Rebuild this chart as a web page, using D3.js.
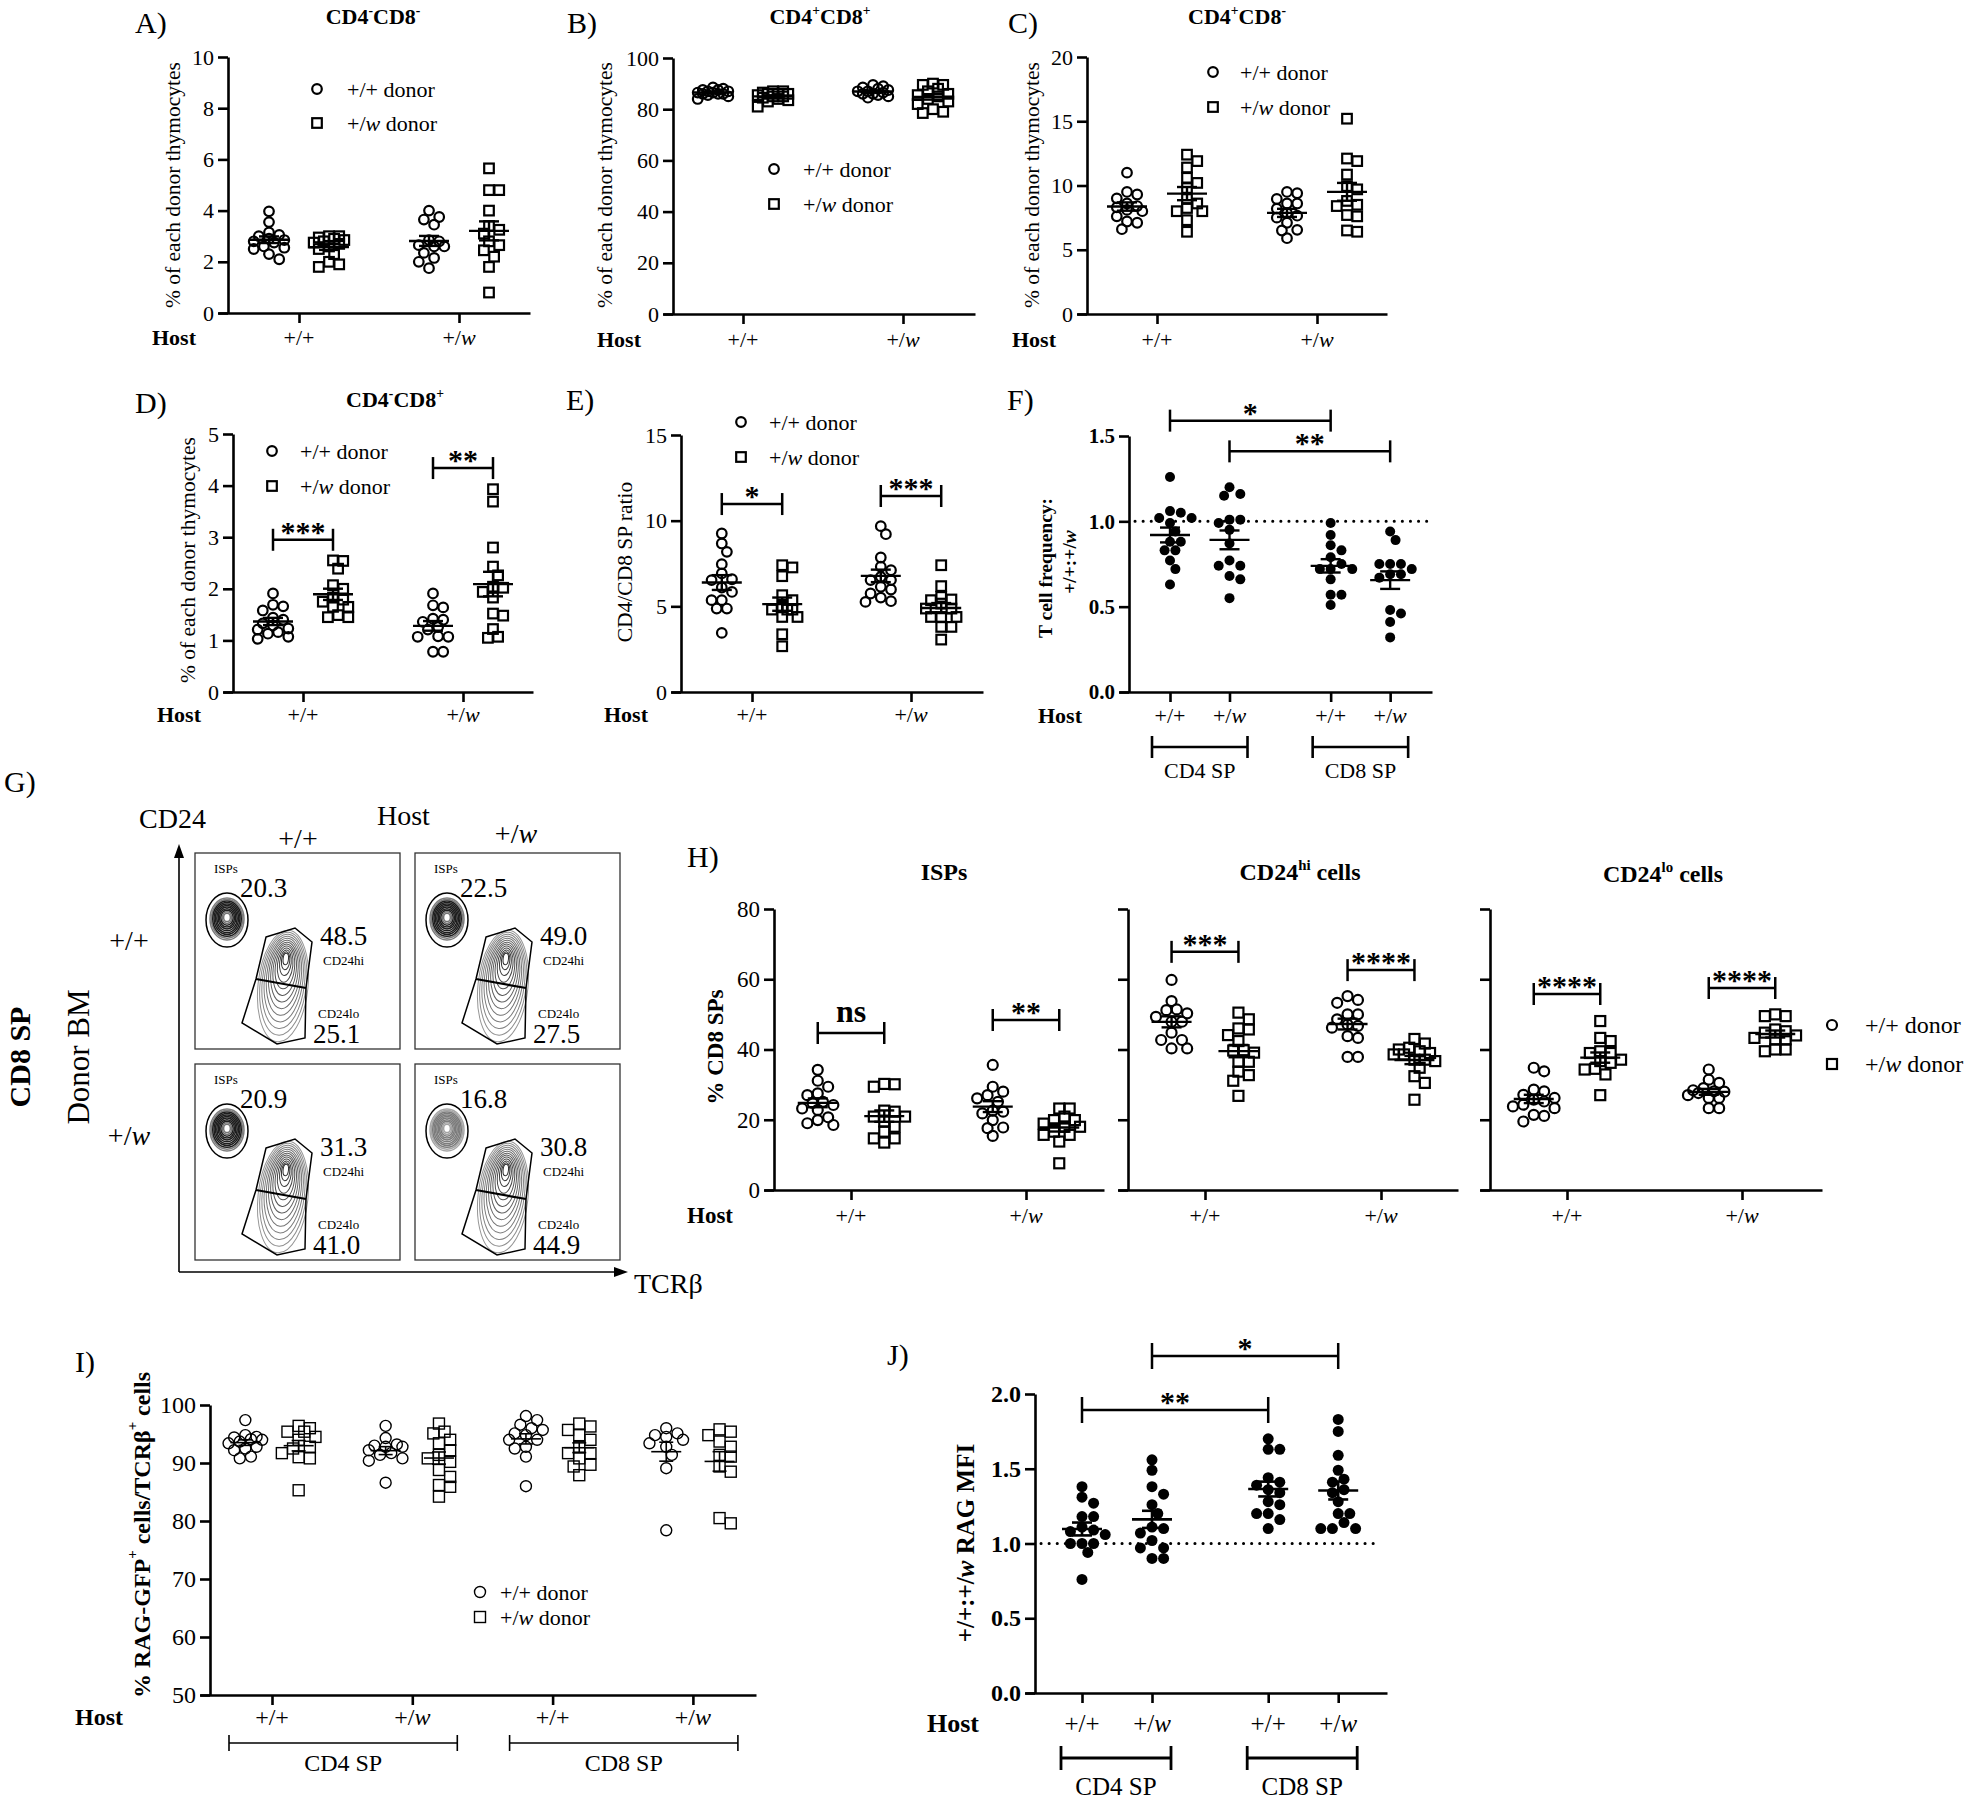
<!DOCTYPE html>
<html><head><meta charset="utf-8">
<script src="https://cdn.jsdelivr.net/npm/d3@7"></script>
<style>body{margin:0;background:#fff}</style>
</head><body>
<script>
// ================= DATA =================
const hostLabels = ["+/+", "+/_w_"];
const legendLabels = ["+/+ donor", "+/_w_ donor"];
const subsetLabels = ["CD4 SP", "CD8 SP"];

// Panel A  CD4-CD8-  (% of each donor thymocytes)
const A_yTicks = [0,2,4,6,8,10];
const A_wtHost_wtDonor  = [3.97,3.55,3.15,3.05,3.0,2.9,2.85,2.8,2.75,2.6,2.55,2.5,2.3,2.1];
const A_wtHost_mutDonor = [3.0,3.0,2.95,2.9,2.85,2.8,2.75,2.7,2.6,2.5,2.3,2.0,1.9,1.8];
const A_mutHost_wtDonor = [4.0,3.75,3.65,3.45,2.85,2.8,2.65,2.6,2.6,2.35,2.15,2.0,1.75];
const A_mutHost_mutDonor= [5.65,4.8,4.8,4.0,3.4,3.25,3.1,2.8,2.65,2.45,2.2,1.8,0.8];

// Panel B  CD4+CD8+
const B_yTicks = [0,20,40,60,80,100];
const B_wtHost_wtDonor  = [88.5,88,87.5,87,87,86.5,86.5,86,86,85.5,85,84,87.5,86];
const B_wtHost_mutDonor = [87,86.5,86,86,85.5,85,85,84.5,84,83.5,83,87,86,81];
const B_mutHost_wtDonor = [89.5,89,88.5,88,87.5,87,87,86.5,86,86,85.5,85,84.5];
const B_mutHost_mutDonor= [90,89.5,89.5,88,87,86,85.5,85,84,83,82,80,79,78.5];

// Panel C  CD4+CD8-
const C_yTicks = [0,5,10,15,20];
const C_wtHost_wtDonor  = [11.0,9.5,9.3,9.0,8.6,8.4,8.3,8.1,8.0,7.6,7.2,7.1,6.6];
const C_wtHost_mutDonor = [12.4,11.9,11.4,10.6,10.2,9.8,8.95,8.6,8.25,8.0,8.0,7.3,6.4];
const C_mutHost_wtDonor = [9.4,9.5,8.95,8.6,8.6,8.2,7.85,7.65,7.5,7.1,6.55,6.5,5.9];
const C_mutHost_mutDonor= [15.2,12.1,11.9,10.85,9.95,9.7,8.8,8.5,8.4,7.7,7.6,6.5,6.4];

// Panel D  CD4-CD8+
const D_yTicks = [0,1,2,3,4,5];
const D_wtHost_wtDonor  = [1.91,1.69,1.66,1.58,1.44,1.40,1.33,1.29,1.23,1.21,1.16,1.13,1.07,1.03];
const D_wtHost_mutDonor = [2.55,2.54,2.39,2.07,2.0,1.83,1.79,1.75,1.65,1.65,1.49,1.45,1.45];
const D_mutHost_wtDonor = [1.91,1.68,1.64,1.42,1.40,1.36,1.26,1.21,1.08,1.07,1.07,0.78,0.78];
const D_mutHost_mutDonor= [3.93,3.69,2.80,2.43,2.26,2.04,2.02,1.94,1.83,1.52,1.48,1.22,1.07,1.05];

// Panel E  CD4/CD8 SP ratio
const E_yTicks = [0,5,10,15];
const E_wtHost_wtDonor  = [9.25,8.67,8.18,7.46,6.92,6.58,6.53,6.10,5.84,5.36,5.36,4.87,4.87,3.45];
const E_wtHost_mutDonor = [7.40,7.27,6.76,5.65,5.36,4.97,4.81,4.81,4.81,4.38,4.38,3.37,2.67];
const E_mutHost_wtDonor = [9.68,9.21,7.85,7.31,7.11,6.72,6.53,6.53,6.14,5.98,5.75,5.51,5.30,5.26];
const E_mutHost_mutDonor= [7.40,6.18,5.55,5.40,5.36,5.16,4.87,4.87,4.38,4.38,4.38,3.80,3.80,3.06];

// Panel F  T cell frequency +/+ : +/w
const F_yTicks = [0,0.5,1.0,1.5];
const F_cd4_wtHost  = [1.26,1.06,1.05,1.02,1.02,0.99,0.94,0.88,0.88,0.83,0.83,0.77,0.72,0.63];
const F_cd4_mutHost = [1.20,1.16,1.15,1.01,1.01,0.99,0.95,0.87,0.77,0.74,0.74,0.68,0.66,0.55];
const F_cd8_wtHost  = [0.99,0.92,0.86,0.83,0.79,0.75,0.72,0.72,0.72,0.66,0.57,0.57,0.51];
const F_cd8_mutHost = [0.94,0.89,0.75,0.75,0.75,0.72,0.69,0.69,0.67,0.48,0.46,0.41,0.32];

// Panel G  flow plots (donor row x host column)
const G_ispPct = [20.3, 22.5, 20.9, 16.8];
const G_hiPct  = [48.5, 49.0, 31.3, 30.8];
const G_loPct  = [25.1, 27.5, 41.0, 44.9];
const G_ringLevels = [1,0.92,0.84,0.76,0.68,0.6,0.52,0.44,0.36,0.28,0.2,0.13,0.07];

// Panel H  % CD8 SPs
const H_yTicks = [0,20,40,60,80];
const H_titles = ["ISPs", "CD24^hi^ cells", "CD24^lo^ cells"];
const H_isp_wtHost_wtDonor  = [34.2,31.1,29.4,27.5,27.0,25.1,24.8,24.2,23.2,22.8,20.7,19.9,19.0,18.5];
const H_isp_wtHost_mutDonor = [30.2,30.1,29.4,22.6,22.3,20.9,20.9,19.5,18.0,16.6,14.7,14.7,13.5];
const H_isp_mutHost_wtDonor = [35.6,29.4,28.0,27.0,26.1,25.1,22.6,22.3,21.8,19.9,17.8,17.6,15.4];
const H_isp_mutHost_mutDonor= [23.2,23.2,20.9,19.9,19.9,18.9,18.0,18.0,16.6,15.7,15.7,13.8,7.6];
const H_hi_wtHost_wtDonor   = [59.8,53.8,51.4,51.2,50.3,49.3,47.9,47.9,44.8,42.7,42.7,40.3,40.3];
const H_hi_wtHost_mutDonor  = [50.5,48.6,46.0,45.7,44.1,42.4,39.8,39.7,39.1,36.5,36.5,33.7,32.7,31.1,26.8];
const H_hi_mutHost_wtDonor  = [55.2,54.1,53.3,50.0,50.0,48.6,47.1,46.7,46.2,43.8,43.3,37.9,37.9];
const H_hi_mutHost_mutDonor = [43.0,41.7,40.5,40.0,39.5,39.0,38.6,38.6,37.1,37.1,36.7,34.8,32.4,30.5,25.7];
const H_lo_wtHost_wtDonor   = [34.8,33.8,28.6,28.1,27.1,26.2,25.7,25.2,24.3,23.8,23.3,21.4,21.1,19.5];
const H_lo_wtHost_mutDonor  = [48.1,43.3,42.4,39.5,39.0,39.0,37.1,36.7,36.2,34.5,34.3,32.9,27.0];
const H_lo_mutHost_wtDonor  = [34.3,31.4,30.5,29.0,28.4,28.1,28.0,27.6,27.0,26.2,26.2,23.3,23.3];
const H_lo_mutHost_mutDonor = [50.0,49.5,49.5,45.7,45.2,44.8,44.0,43.3,42.9,42.9,40.0,40.0,39.5];

// Panel I  % RAG-GFP+ cells / TCRb+ cells
const I_yTicks = [50,60,70,80,90,100];
const I_cd4_wtHost_wtDonor   = [97.4,94.8,94.5,94.4,94.1,94.0,93.7,93.4,92.8,92.5,92.2,91.1,90.8];
const I_cd4_wtHost_mutDonor  = [96.4,96.0,95.4,95.4,94.5,94.0,92.8,92.5,91.7,91.0,90.8,85.3];
const I_cd4_mutHost_wtDonor  = [96.4,94.3,93.2,93.0,92.8,92.8,92.2,91.7,91.4,90.8,90.4,86.6];
const I_cd4_mutHost_mutDonor = [96.8,95.4,95.1,94.0,93.4,92.2,91.4,90.8,90.2,88.8,87.6,86.2,85.9,84.2];
const I_cd8_wtHost_wtDonor   = [98.1,97.4,96.6,96.0,95.7,95.1,94.8,94.0,94.0,92.8,92.5,91.1,86.0];
const I_cd8_wtHost_mutDonor  = [96.8,96.3,95.7,94.8,94.0,92.8,91.7,91.7,90.8,89.7,89.4,87.9];
const I_cd8_mutHost_wtDonor  = [96.0,95.1,94.8,94.5,94.0,93.4,92.8,91.4,89.1,78.4];
const I_cd8_mutHost_mutDonor = [95.8,95.4,94.8,93.7,92.8,91.4,91.1,89.4,88.5,80.5,79.6];

// Panel J  +/+ : +/w RAG MFI
const J_yTicks = [0,0.5,1.0,1.5,2.0];
const J_cd4_wtHost  = [1.38,1.31,1.27,1.18,1.18,1.11,1.09,1.08,1.06,1.00,1.00,1.00,0.94,0.76];
const J_cd4_mutHost = [1.56,1.49,1.38,1.33,1.26,1.20,1.11,1.10,1.07,1.02,0.97,0.97,0.90,0.90];
const J_cd8_wtHost  = [1.70,1.63,1.63,1.44,1.41,1.39,1.36,1.34,1.28,1.26,1.20,1.20,1.16,1.10];
const J_cd8_mutHost = [1.83,1.75,1.59,1.49,1.43,1.41,1.36,1.34,1.28,1.20,1.20,1.14,1.10,1.10,1.10];

// ================= DRAWING =================
const FONT = "'Liberation Serif','Times New Roman',Times,serif";
const svg = d3.select("body").append("svg").attr("width",1968).attr("height",1800)
  .style("font-family",FONT).style("background","#fff");

function rich(sel, str, fs){
  const parts = str.split(/(\^[^^]*\^|_[^_]+_)/).filter(s=>s.length);
  let up=false;
  parts.forEach(p=>{
    let t=p, sup=false, it=false;
    if(p[0]==='^'){t=p.slice(1,-1);sup=true;}
    else if(p[0]==='_' && p.length>2){t=p.slice(1,-1);it=true;}
    const ts=sel.append("tspan").text(t);
    if(it) ts.attr("font-style","italic");
    if(sup){ ts.attr("font-size",fs*0.62); if(!up){ts.attr("dy",-fs*0.42);up=true;} }
    else if(up){ ts.attr("dy",fs*0.42); up=false; }
  });
  return sel;
}
function T(x,y,str,fs,opt={}){
  const t=svg.append("text").attr("x",x).attr("y",y).attr("font-size",fs)
    .attr("font-family",FONT).attr("fill","#000");
  if(opt.anchor) t.attr("text-anchor",opt.anchor);
  if(opt.bold) t.attr("font-weight","bold");
  if(opt.rotate) t.attr("transform",`rotate(-90,${x},${y})`).attr("dominant-baseline","central");
  rich(t,str,fs);
  return t;
}
function marker(g,x,y,shape,st){
  if(shape==="circle"){
    g.append("circle").attr("cx",x).attr("cy",y).attr("r",st.r).attr("fill","none").attr("stroke","#000").attr("stroke-width",st.sw);
  } else if(shape==="square"){
    g.append("rect").attr("x",x-st.r).attr("y",y-st.r).attr("width",2*st.r).attr("height",2*st.r)
      .attr("fill","none").attr("stroke","#000").attr("stroke-width",st.sw);
  } else {
    g.append("circle").attr("cx",x).attr("cy",y).attr("r",st.r).attr("fill","#000");
  }
}
// beeswarm-like dodge, limited to a maximum half-width (points may overlap)
function swarm(values,cx,y,r,gap,maxHalf){
  const d=2*r+gap, step=d*0.5;
  const nMax=Math.max(1,Math.floor(maxHalf/step));
  const cands=[0]; for(let k=1;k<=nMax;k++){cands.push(k*step,-k*step);}
  const pts=values.map(v=>({v,y:y(v)}));
  const order=pts.slice().sort((a,b)=>a.y-b.y);
  const placed=[];
  order.forEach(p=>{
    let best=cx,bestScore=-1;
    for(const off of cands){
      const px=cx+off;
      const md=Math.min(Infinity,...placed.map(q=>Math.hypot(q.x-px,q.y-p.y)));
      if(md>=d*0.88){best=px;break;}
      if(md>bestScore+0.01){bestScore=md;best=px;}
    }
    p.x=best; placed.push(p);
  });
  return pts;
}
function line(g,x1,y1,x2,y2,sw,extra){
  const l=g.append("line").attr("x1",x1).attr("y1",y1).attr("x2",x2).attr("y2",y2)
    .attr("stroke","#000").attr("stroke-width",sw);
  if(extra) extra(l);
  return l;
}
function sig(g,x1,x2,yy,label,o={}){
  const h=o.h||11, sw=o.sw||2.5;
  line(g,x1,yy,x2,yy,sw);
  line(g,x1,yy-h,x1,yy+h,sw); line(g,x2,yy-h,x2,yy+h,sw);
  if(label==="ns") T((x1+x2)/2,yy-11,"ns",32,{anchor:"middle",bold:true});
  else T((x1+x2)/2,yy+2,label,o.fs||30,{anchor:"middle",bold:true});
}
function legend(x,y,dy,tx,fs,st){
  const g=svg.append("g");
  marker(g,x,y,"circle",st); marker(g,x,y+dy,"square",st);
  T(tx,y+fs*0.35,legendLabels[0],fs);
  T(tx,y+dy+fs*0.35,legendLabels[1],fs);
}

function panel(o){
  const g=svg.append("g");
  const x=d3.scaleLinear().domain([(o.left-10-o.t0)/o.unit,(o.right-o.t0)/o.unit]).range([o.left-10,o.right]);
  const y=d3.scaleLinear().domain(o.yDomain).range([o.bottom,o.top]);
  const aw=o.aw||2.6;
  const ya=g.append("g").attr("transform",`translate(${o.left},0)`)
    .call(d3.axisLeft(y).tickValues(o.yTicks).tickSize(10).tickSizeOuter(0).tickPadding(4)
      .tickFormat(o.noYLabels?()=>"":(o.fmt||d3.format("d"))));
  ya.selectAll("path,line").attr("stroke","#000").attr("stroke-width",aw);
  ya.selectAll("text").attr("font-family",FONT).attr("font-size",o.tfs||22)
    .attr("font-weight",o.tbold?"bold":"normal").attr("fill","#000");
  const xa=g.append("g").attr("transform",`translate(0,${o.bottom})`)
    .call(d3.axisBottom(x).tickValues(o.cats.map(c=>c.pos)).tickSize(10).tickSizeOuter(0).tickFormat(()=>""));
  xa.selectAll("path,line").attr("stroke","#000").attr("stroke-width",aw);
  o.cats.forEach(c=>T(x(c.pos),o.labelY,c.label,o.cfs||22,{anchor:"middle"}));
  if(o.ref!==undefined){
    line(g,o.left+6,y(o.ref),o.refEnd,y(o.ref),3,l=>l.attr("stroke-dasharray","0.1,8").attr("stroke-linecap","round"));
  }
  const st=o.st;
  o.groups.forEach(gr=>{
    const cx=x(gr.pos);
    swarm(gr.values,cx,y,st.r,st.gap,st.spread).forEach(p=>marker(g,p.x,p.y,gr.shape,st));
    const m=d3.mean(gr.values), se=d3.deviation(gr.values)/Math.sqrt(gr.values.length);
    line(g,cx-st.mw,y(m),cx+st.mw,y(m),st.lw);
    line(g,cx,y(m-se),cx,y(m+se),st.lw);
    line(g,cx-st.cw,y(m+se),cx+st.cw,y(m+se),st.lw);
    line(g,cx-st.cw,y(m-se),cx+st.cw,y(m-se),st.lw);
  });
  return {g,x,y};
}

const stOpen={r:4.8,sw:2.2,gap:0.6,mw:20,cw:10,lw:2.4,spread:20};
const off=0.1875;
const hostCats=[{pos:0,label:hostLabels[0]},{pos:1,label:hostLabels[1]}];
function fourGroups(a,b,c,d,o){
  return [{pos:-o,values:a,shape:"circle"},{pos:o,values:b,shape:"square"},
          {pos:1-o,values:c,shape:"circle"},{pos:1+o,values:d,shape:"square"}];
}

// ---------- A ----------
T(135,33,"A)",30);
T(373,24,"CD4^-^CD8^-^",22,{anchor:"middle",bold:true});
panel({left:228,right:530,t0:299,unit:160,top:57,bottom:313,yDomain:[0,10],yTicks:A_yTicks,
  labelY:345,cats:hostCats,st:stOpen,
  groups:fourGroups(A_wtHost_wtDonor,A_wtHost_mutDonor,A_mutHost_wtDonor,A_mutHost_mutDonor,off)});
T(152,345,"Host",22,{bold:true});
T(173,185,"% of each donor thymocytes",21.5,{anchor:"middle",rotate:true});
legend(317,89,34,347,22,stOpen);

// ---------- B ----------
T(567,33,"B)",30);
T(820,24,"CD4^+^CD8^+^",22,{anchor:"middle",bold:true});
panel({left:673,right:975,t0:743,unit:160,top:58,bottom:314,yDomain:[0,100],yTicks:B_yTicks,
  labelY:347,cats:hostCats,st:stOpen,
  groups:fourGroups(B_wtHost_wtDonor,B_wtHost_mutDonor,B_mutHost_wtDonor,B_mutHost_mutDonor,off)});
T(597,347,"Host",22,{bold:true});
T(605,185,"% of each donor thymocytes",21.5,{anchor:"middle",rotate:true});
legend(774,169,35,803,22,stOpen);

// ---------- C ----------
T(1008,33,"C)",30);
T(1237,24,"CD4^+^CD8^-^",22,{anchor:"middle",bold:true});
panel({left:1087,right:1387,t0:1157,unit:160,top:57,bottom:314,yDomain:[0,20],yTicks:C_yTicks,
  labelY:347,cats:hostCats,st:stOpen,
  groups:fourGroups(C_wtHost_wtDonor,C_wtHost_mutDonor,C_mutHost_wtDonor,C_mutHost_mutDonor,off)});
T(1012,347,"Host",22,{bold:true});
T(1032,185,"% of each donor thymocytes",21.5,{anchor:"middle",rotate:true});
legend(1213,72,35,1240,22,stOpen);

// ---------- D ----------
T(135,413,"D)",30);
T(395,407,"CD4^-^CD8^+^",22,{anchor:"middle",bold:true});
{
  const p=panel({left:233,right:533,t0:303,unit:160,top:434,bottom:692,yDomain:[0,5],yTicks:D_yTicks,
    labelY:722,cats:hostCats,st:stOpen,
    groups:fourGroups(D_wtHost_wtDonor,D_wtHost_mutDonor,D_mutHost_wtDonor,D_mutHost_mutDonor,off)});
  sig(p.g,p.x(-off),p.x(off),p.y(2.95),"***");
  sig(p.g,p.x(1-off),p.x(1+off),p.y(4.34),"**");
}
T(157,722,"Host",22,{bold:true});
T(188,560,"% of each donor thymocytes",21.5,{anchor:"middle",rotate:true});
legend(272,451,35,300,22,stOpen);

// ---------- E ----------
T(566,410,"E)",30);
{
  const p=panel({left:681,right:983,t0:752,unit:159,top:435,bottom:692,yDomain:[0,15],yTicks:E_yTicks,
    labelY:722,cats:hostCats,st:stOpen,
    groups:fourGroups(E_wtHost_wtDonor,E_wtHost_mutDonor,E_mutHost_wtDonor,E_mutHost_mutDonor,0.19)});
  sig(p.g,p.x(-0.19),p.x(0.19),p.y(10.97),"*");
  sig(p.g,p.x(0.81),p.x(1.19),p.y(11.44),"***");
}
T(604,722,"Host",22,{bold:true});
T(625,562,"CD4/CD8 SP ratio",21.5,{anchor:"middle",rotate:true});
legend(741,422,35,769,22,stOpen);

// ---------- F ----------
T(1007,410,"F)",30);
{
  const stDot={r:5,sw:0,gap:0.8,mw:20,cw:10,lw:2.4,spread:24};
  const pos=[0,1,2.7,3.7];
  const p=panel({left:1129,right:1432,t0:1170,unit:59.5,top:436,bottom:692,yDomain:[0,1.5],yTicks:F_yTicks,
    fmt:d3.format(".1f"),tbold:true,tfs:21,labelY:723,
    cats:pos.map((q,i)=>({pos:q,label:hostLabels[i%2]})),st:stDot,ref:1.0,refEnd:1427,
    groups:[F_cd4_wtHost,F_cd4_mutHost,F_cd8_wtHost,F_cd8_mutHost].map((v,i)=>({pos:pos[i],values:v,shape:"dot"}))});
  sig(p.g,p.x(0),p.x(2.7),p.y(1.59),"*");
  sig(p.g,p.x(1),p.x(3.7),p.y(1.41),"**");
  [[0,1],[2.7,3.7]].forEach((pr,i)=>{
    const x1=p.x(pr[0])-18,x2=p.x(pr[1])+18,yy=747;
    line(p.g,x1,yy,x2,yy,2.6); line(p.g,x1,yy-11,x1,yy+11,2.6); line(p.g,x2,yy-11,x2,yy+11,2.6);
    T((x1+x2)/2,778,subsetLabels[i],22,{anchor:"middle"});
  });
}
T(1038,723,"Host",22,{bold:true});
T(1045,568,"T cell frequency:",19.5,{anchor:"middle",rotate:true,bold:true});
T(1069,562,"+/+:+/_w_",19.5,{anchor:"middle",rotate:true,bold:true});

// ---------- G ----------
T(4,792,"G)",30);
T(139,828,"CD24",28);
T(377,825,"Host",28);
T(298,848,"+/+",28,{anchor:"middle"});
T(516,843,"+/_w_",28,{anchor:"middle"});
T(129,950,"+/+",28,{anchor:"middle"});
T(129,1145,"+/_w_",28,{anchor:"middle"});
T(78,1057,"Donor BM",31,{anchor:"middle",rotate:true});
T(19,1057,"CD8 SP",30,{anchor:"middle",rotate:true,bold:true});
T(634,1293,"TCRβ",28);
{
  const g=svg.append("g");
  line(g,179,1272,179,856,1.6); line(g,179,1272,616,1272,1.6);
  g.append("path").attr("d","M179,844 L174,858 L184,858 Z").attr("fill","#000");
  g.append("path").attr("d","M628,1272 L614,1267 L614,1277 Z").attr("fill","#000");
  const cols=[195,415], rows=[853,1064], bw=205, bh=196;
  const poly=[[71,84],[100,75],[117,89],[111,135],[110,185],[82,191],[47,170],[61,126]];
  const ispDark=[1,1,1,0.45];
  rows.forEach((by,ri)=>cols.forEach((bx,ci)=>{
    const idx=ri*2+ci;
    g.append("rect").attr("x",bx).attr("y",by).attr("width",bw).attr("height",bh)
      .attr("fill","none").attr("stroke","#333").attr("stroke-width",1.3);
    // ISP contour rings: dark band with a light centre
    const ic=[bx+32,by+66];
    G_ringLevels.forEach(lv=>{
      if(lv<0.2) return;
      const dark=lv>0.85?0.45:(lv>0.3?1:0.5);
      const shade=Math.round(200-170*dark*ispDark[idx]);
      g.append("ellipse").attr("cx",ic[0]).attr("cy",ic[1]-2*(1-lv)).attr("rx",17*lv).attr("ry",21*lv)
        .attr("fill","none").attr("stroke",`rgb(${shade},${shade},${shade})`).attr("stroke-width",1.5);
    });
    g.append("ellipse").attr("cx",ic[0]).attr("cy",ic[1]+1).attr("rx",21).attr("ry",27)
      .attr("fill","none").attr("stroke","#000").attr("stroke-width",1.5);
    // main population rings
    const base=[bx+88,by+133], hot=[bx+91,by+104];
    G_ringLevels.forEach(lv=>{
      const cx=base[0]+(hot[0]-base[0])*(1-lv), cy=base[1]+(hot[1]-base[1])*(1-lv);
      const shade=Math.round(150-110*(1-lv));
      g.append("ellipse").attr("cx",cx).attr("cy",cy).attr("rx",24*lv+1).attr("ry",54*lv+2)
        .attr("transform",`rotate(6,${cx},${cy})`)
        .attr("fill","none").attr("stroke",`rgb(${shade},${shade},${shade})`).attr("stroke-width",1);
    });
    g.append("path").attr("d","M"+poly.map(p=>[bx+p[0],by+p[1]].join(",")).join("L")+"Z")
      .attr("fill","none").attr("stroke","#000").attr("stroke-width",1.5);
    line(g,bx+61,by+126,bx+111,by+135,2.2);
    T(bx+19,by+20,"ISPs",13);
    T(bx+45,by+44,G_ispPct[idx].toFixed(1),27);
    T(bx+125,by+92,G_hiPct[idx].toFixed(1),27);
    T(bx+128,by+112,"CD24hi",13);
    T(bx+123,by+165,"CD24lo",13);
    T(bx+118,by+190,G_loPct[idx].toFixed(1),27);
  }));
}

// ---------- H ----------
T(687,867,"H)",30);
{
  const specs=[
    {left:774,right:1104,t0:851,unit:175,data:[H_isp_wtHost_wtDonor,H_isp_wtHost_mutDonor,H_isp_mutHost_wtDonor,H_isp_mutHost_mutDonor],
     sigs:[[44.7,"ns"],[48.4,"**"]],title:[944,880]},
    {left:1128,right:1458,t0:1205,unit:176,data:[H_hi_wtHost_wtDonor,H_hi_wtHost_mutDonor,H_hi_mutHost_wtDonor,H_hi_mutHost_mutDonor],
     sigs:[[67.8,"***"],[62.6,"****"]],title:[1300,880]},
    {left:1490,right:1822,t0:1567,unit:175,data:[H_lo_wtHost_wtDonor,H_lo_wtHost_mutDonor,H_lo_mutHost_wtDonor,H_lo_mutHost_mutDonor],
     sigs:[[55.8,"****"],[57.5,"****"]],title:[1663,882]}
  ];
  const stH={r:5,sw:2.2,gap:0.4,mw:20,cw:10,lw:2.4,spread:22};
  specs.forEach((s,i)=>{
    const p=panel({left:s.left,right:s.right,t0:s.t0,unit:s.unit,top:909,bottom:1190,yDomain:[0,80],yTicks:H_yTicks,
      noYLabels:i>0,tfs:23,labelY:1223,cats:hostCats,st:stH,
      groups:fourGroups(s.data[0],s.data[1],s.data[2],s.data[3],0.19)});
    sig(p.g,p.x(-0.19),p.x(0.19),p.y(s.sigs[0][0]),s.sigs[0][1]);
    sig(p.g,p.x(0.81),p.x(1.19),p.y(s.sigs[1][0]),s.sigs[1][1]);
    T(s.title[0],s.title[1],H_titles[i],24,{anchor:"middle",bold:true});
  });
  legend(1832,1025,39,1865,24,stH);
}
T(687,1223,"Host",23,{bold:true});
T(715,1047,"% CD8 SPs",23,{anchor:"middle",rotate:true,bold:true});

// ---------- I ----------
T(75,1372,"I)",30);
{
  const stI={r:5.5,sw:1.4,gap:0.2,mw:15,cw:7,lw:1.6,spread:17};
  const p=panel({left:210,right:756,t0:272,unit:140.3,top:1405,bottom:1695,yDomain:[50,100],yTicks:I_yTicks,
    tfs:24,labelY:1725,cfs:24,aw:2.6,cats:[0,1,2,3].map(q=>({pos:q,label:hostLabels[q%2]})),st:stI,
    groups:[I_cd4_wtHost_wtDonor,I_cd4_wtHost_mutDonor,I_cd4_mutHost_wtDonor,I_cd4_mutHost_mutDonor,
            I_cd8_wtHost_wtDonor,I_cd8_wtHost_mutDonor,I_cd8_mutHost_wtDonor,I_cd8_mutHost_mutDonor]
      .map((v,i)=>({pos:Math.floor(i/2)+(i%2?0.19:-0.19),values:v,shape:i%2?"square":"circle"}))});
  [[0,1],[2,3]].forEach((pr,i)=>{
    const x1=p.x(pr[0])-43,x2=p.x(pr[1])+45,yy=1743;
    line(p.g,x1,yy,x2,yy,1.6); line(p.g,x1,yy-8,x1,yy+8,1.6); line(p.g,x2,yy-8,x2,yy+8,1.6);
    T((x1+x2)/2,1771,subsetLabels[i],24,{anchor:"middle"});
  });
  legend(480,1592,25,500,22,stI);
}
T(75,1725,"Host",24,{bold:true});
T(142,1535,"% RAG-GFP^+^ cells/TCRβ^+^ cells",24,{anchor:"middle",rotate:true,bold:true});

// ---------- J ----------
T(887,1365,"J)",30);
{
  const stJ={r:5.5,sw:0,gap:0.6,mw:20,cw:10,lw:2.6,spread:24};
  const pos=[0,1,2.66,3.66];
  const p=panel({left:1035,right:1387,t0:1082,unit:70,top:1394,bottom:1693,yDomain:[0,2],yTicks:J_yTicks,
    fmt:d3.format(".1f"),tbold:true,tfs:24,labelY:1732,cfs:25,
    cats:pos.map((q,i)=>({pos:q,label:hostLabels[i%2]})),st:stJ,ref:1.0,refEnd:1380,
    groups:[J_cd4_wtHost,J_cd4_mutHost,J_cd8_wtHost,J_cd8_mutHost].map((v,i)=>({pos:pos[i],values:v,shape:"dot"}))});
  sig(p.g,p.x(0),p.x(2.66),p.y(1.893),"**",{h:13});
  sig(p.g,p.x(1),p.x(3.66),p.y(2.254),"*",{h:13});
  [[0,1],[2.66,3.66]].forEach((pr,i)=>{
    const x1=p.x(pr[0])-21,x2=p.x(pr[1])+19,yy=1758;
    line(p.g,x1,yy,x2,yy,2.8); line(p.g,x1,yy-12,x1,yy+12,2.8); line(p.g,x2,yy-12,x2,yy+12,2.8);
    T((x1+x2)/2,1795,subsetLabels[i],25,{anchor:"middle"});
  });
}
T(927,1732,"Host",26,{bold:true});
T(965,1543,"+/+:+/_w_ RAG MFI",25,{anchor:"middle",rotate:true,bold:true});
</script>
</body></html>
